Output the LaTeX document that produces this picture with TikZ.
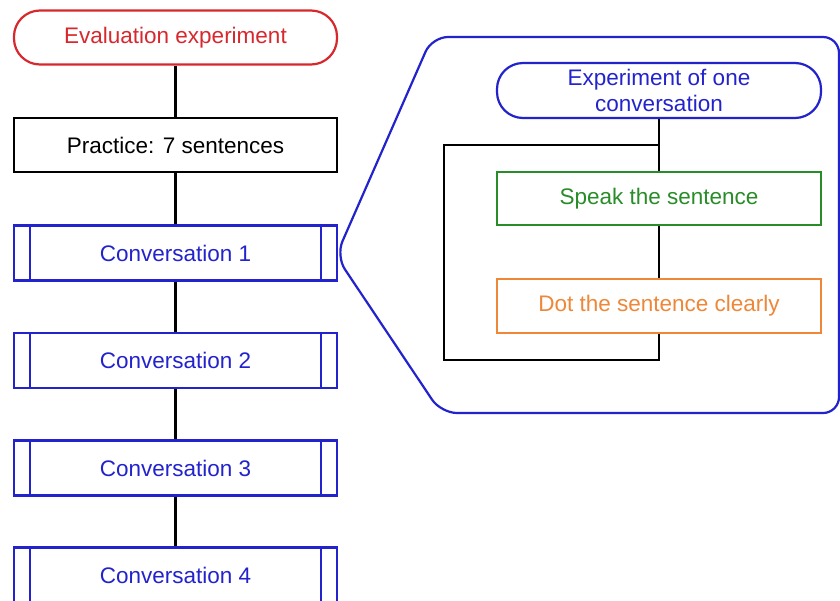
\documentclass[tikz,border=0pt]{standalone}
\usepackage{fontspec}
\setmainfont{Liberation Sans}
\definecolor{cred}{RGB}{215,40,45}
\definecolor{cblue}{RGB}{35,35,205}
\definecolor{cgreen}{RGB}{40,140,40}
\definecolor{corange}{RGB}{238,135,55}
\tikzset{
  base/.style={minimum width=323pt, minimum height=54pt, line width=2.2pt, inner sep=0pt, font=\fontsize{22.5}{27}\selectfont},
  pill/.style={base, rectangle, rounded corners=26pt},
  plain/.style={base, rectangle},
  proc/.style={base, rectangle, draw=cblue, text=cblue,
    path picture={\draw[cblue, line width=2.2pt]
      ([xshift=16pt]path picture bounding box.north west) -- ([xshift=16pt]path picture bounding box.south west)
      ([xshift=-16pt]path picture bounding box.north east) -- ([xshift=-16pt]path picture bounding box.south east);}},
  conn/.style={line width=2.2pt, black}
}
\begin{document}
\begin{tikzpicture}[x=1pt,y=-1pt]
\useasboundingbox (0,0) rectangle (840,600);
\clip (0,0) rectangle (840,600);
\fill[white] (0,0) rectangle (840,600);
% callout
\draw[cblue, line width=2.2pt, rounded corners=16pt]
  (441,413) -- (336,256) -- (432,37) -- (839,37) -- (839,413) -- cycle;
% left column
\node[pill, draw=cred, text=cred] (eval) at (175.5,37.5) {Evaluation experiment};
\node[plain, draw=black] (prac) at (175.5,145) {Practice: 7 sentences};
\node[proc, minimum height=55pt] (c1) at (175.5,253) {Conversation 1};
\node[proc, minimum height=55pt] (c2) at (175.5,360.5) {Conversation 2};
\node[proc, minimum height=55pt] (c3) at (175.5,468) {Conversation 3};
\node[proc, minimum height=55pt] (c4) at (175.5,575) {Conversation 4};
\draw[conn] (eval) -- (prac);
\draw[conn] (prac) -- (c1);
\draw[conn] (c1) -- (c2);
\draw[conn] (c2) -- (c3);
\draw[conn] (c3) -- (c4);
% inner flow
\node[pill, minimum width=324pt, minimum height=55pt, draw=cblue, text=cblue, align=center,
  font=\fontsize{22.5}{26}\selectfont] (exp) at (659,90.5) {Experiment of one\\conversation};
\node[plain, minimum width=324pt, minimum height=53pt, draw=cgreen, text=cgreen] (speak) at (659,198.5) {Speak the sentence};
\node[plain, minimum width=324pt, minimum height=54pt, draw=corange, text=corange] (dot) at (659,306) {Dot the sentence clearly};
\coordinate (la) at (659,145);
\coordinate (lc) at (444,360);
\draw[conn] (exp) -- (speak);
\draw[conn] (speak) -- (dot);
\draw[conn] (la) -| (lc) -| (dot.south);
\end{tikzpicture}
\end{document}
